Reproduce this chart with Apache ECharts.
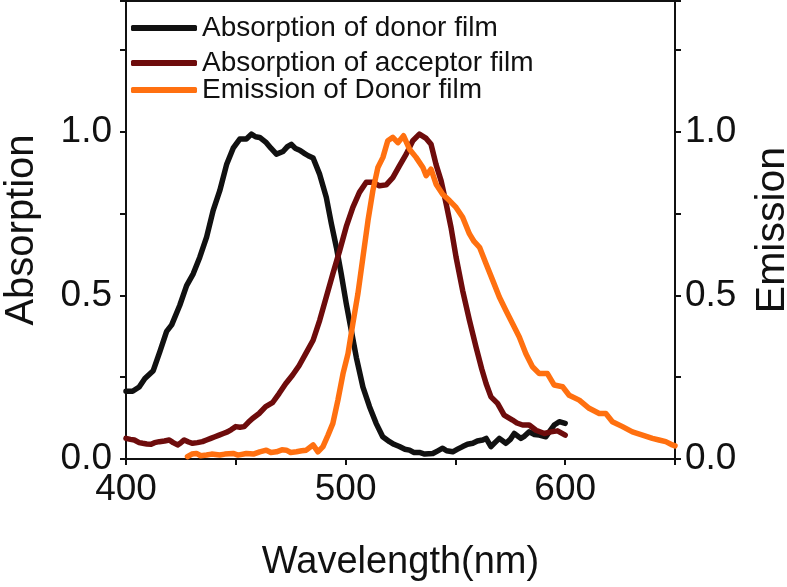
<!DOCTYPE html>
<html>
<head>
<meta charset="utf-8">
<script src="https://cdn.jsdelivr.net/npm/echarts@6/dist/echarts.min.js"></script>
<style>
html,body{margin:0;padding:0;background:#fff;}
#chart{width:787px;height:587px;}
</style>
</head>
<body>
<div id="chart"></div>
<script>
// ---- data ----
const seriesNames = ['Absorption of donor film', 'Absorption of acceptor film', 'Emission of Donor film'];
const xTickLabels = [400, 500, 600];
const yTickLabels = [0.0, 0.5, 1.0];

const donorWl = [400,403,406,408.6,412.4,415.5,418.5,420.8,424.5,427.6,430.6,433.6,436.7,439.7,442.7,445.8,448.8,451.8,454.8,457.1,459,460.9,463.9,466,468.5,471.5,473.5,475.3,477,479.1,481,483,485.2,488.2,491.2,493.5,495.8,498,500.3,502.6,504.9,507.9,510.9,513.9,516.9,520,522,524.5,527,529.1,531,533.6,536,539.7,542,544.2,546,548.8,551,553.3,555.5,557.9,560,562.4,564,566.2,568,570,573,575,576.8,579.8,581.5,583.6,586,588.2,591.2,593,595,597.3,600];
const donorAbs = [0.207,0.207,0.22,0.246,0.27,0.33,0.39,0.41,0.47,0.53,0.566,0.617,0.678,0.76,0.82,0.90,0.95,0.978,0.978,0.993,0.985,0.983,0.967,0.95,0.932,0.94,0.955,0.962,0.95,0.944,0.935,0.927,0.92,0.87,0.80,0.72,0.647,0.566,0.475,0.393,0.31,0.22,0.16,0.109,0.068,0.053,0.045,0.038,0.03,0.027,0.02,0.02,0.015,0.017,0.025,0.033,0.025,0.022,0.03,0.038,0.045,0.048,0.055,0.058,0.063,0.038,0.05,0.063,0.048,0.06,0.078,0.063,0.07,0.083,0.075,0.073,0.068,0.085,0.104,0.114,0.109];

const acceptorWl = [400,402,403.8,406,407.6,409.5,411.4,413,415.2,417.5,419.7,421.5,423.5,425,426.5,428.5,430.3,432.5,434.8,436.7,438.6,440.5,442.4,444.3,446.2,448,450,451.9,453.8,455.7,457.6,460.6,463.6,466.7,469.7,472.7,475.8,478.8,482.1,485.2,488.2,491.2,494.2,497.3,500.3,503.3,506.3,509.4,512.4,515.4,518.5,521.5,524.5,527.6,530.6,533.6,536.7,538.9,541.2,543.5,545.8,548,550.3,553.3,556.4,559.4,562,564,566.2,569.2,572.2,576,578,580.6,583.6,586.7,590.5,593.5,596.5,600];
const acceptorAbs = [0.063,0.06,0.058,0.05,0.048,0.046,0.045,0.05,0.053,0.055,0.058,0.05,0.043,0.05,0.058,0.052,0.048,0.05,0.053,0.058,0.063,0.068,0.073,0.078,0.083,0.09,0.099,0.097,0.099,0.112,0.124,0.139,0.16,0.172,0.20,0.23,0.256,0.285,0.325,0.363,0.424,0.495,0.566,0.637,0.71,0.769,0.815,0.846,0.846,0.835,0.838,0.86,0.896,0.932,0.973,0.993,0.98,0.962,0.90,0.85,0.78,0.708,0.617,0.515,0.424,0.342,0.275,0.23,0.19,0.17,0.134,0.119,0.11,0.104,0.104,0.088,0.078,0.083,0.086,0.073];

const emissionWl = [428,430,432.1,434,436.7,439,442.7,445,448.8,451,454.8,458,460.9,463.9,466,468.5,471,473,475,477.6,480,482.1,485.2,487.4,489.7,492,494.2,496.5,498.8,501.1,503.3,505.6,507.9,510.2,512.4,514.7,517,519.2,521.5,523.8,526.4,529.1,532.1,535.2,536.7,538.9,541.2,544.2,547.3,550.3,553.3,556.4,558.5,561,564,567,570,573,576,579.1,582.1,585.1,588.2,591.9,595,598.8,601.8,606.4,610.9,615.5,618.5,621.5,626.1,630.6,635.2,639.7,642.7,645.8,648.8,650];
const emissionVal = [0.007,0.015,0.017,0.01,0.012,0.015,0.012,0.015,0.017,0.012,0.017,0.015,0.022,0.027,0.02,0.022,0.028,0.027,0.02,0.022,0.025,0.027,0.043,0.022,0.038,0.073,0.109,0.18,0.26,0.322,0.414,0.505,0.617,0.729,0.82,0.891,0.922,0.973,0.983,0.967,0.988,0.947,0.922,0.891,0.866,0.886,0.84,0.809,0.79,0.769,0.739,0.688,0.665,0.647,0.596,0.546,0.495,0.454,0.414,0.373,0.322,0.282,0.261,0.261,0.226,0.221,0.195,0.18,0.155,0.139,0.139,0.114,0.099,0.083,0.073,0.063,0.058,0.053,0.043,0.04];

const colors = ['#111111', '#6e0c0c', '#ff7010'];

// ---- chart ----
const zip = (a, b) => a.map((v, i) => [v, b[i]]);
const FONT = '"Liberation Sans", Arial, sans-serif';

const yLabelFmt = v => yTickLabels.some(t => Math.abs(t - v) < 1e-6) ? v.toFixed(1) : '';
const xLabelFmt = v => xTickLabels.indexOf(Math.round(v)) >= 0 && Math.abs(v - Math.round(v)) < 1e-6 ? String(Math.round(v)) : '';

function yAxisCfg(pos, name, nameGap, nameSize, margin) {
  return {
    type: 'value', position: pos, min: 0, max: 1.4, interval: 0.25,
    name: name, nameLocation: 'middle', nameGap: nameGap, nameRotate: 90,
    nameMoveOverlap: false,
    nameTextStyle: { fontSize: nameSize, color: '#111', fontFamily: FONT },
    axisLine: { show: true, lineStyle: { color: '#111', width: 2 } },
    axisTick: { show: true, inside: false, length: 6, lineStyle: { color: '#111', width: 2 } },
    axisLabel: { formatter: yLabelFmt, fontSize: 37, color: '#111', fontFamily: FONT, margin: margin, showMaxLabel: true },
    splitLine: { show: false }
  };
}

function legendCfg(name, top) {
  return {
    data: [name], left: 131, top: top, padding: 0, orient: 'vertical',
    icon: 'roundRect', itemWidth: 66, itemHeight: 6,
    textStyle: { fontSize: 28, color: '#111', fontFamily: FONT },
    selectedMode: false
  };
}

const chart = echarts.init(document.getElementById('chart'), null, { renderer: 'canvas' });
chart.setOption({
  animation: false,
  backgroundColor: '#fff',
  color: colors,
  grid: { left: 126, right: 112, top: 1, bottom: 128, containLabel: false, outerBoundsMode: 'none', show: true, borderColor: '#111', borderWidth: 2, backgroundColor: 'transparent' },
  legend: [legendCfg(seriesNames[0], 14), legendCfg(seriesNames[1], 49), legendCfg(seriesNames[2], 76)],
  xAxis: {
    type: 'value', min: 400, max: 650, interval: 50,
    name: 'Wavelength(nm)', nameLocation: 'middle', nameGap: 85, nameMoveOverlap: false,
    nameTextStyle: { fontSize: 38, color: '#111', fontFamily: FONT },
    axisLine: { show: true, lineStyle: { color: '#111', width: 2 } },
    axisTick: { show: true, inside: false, length: 6, lineStyle: { color: '#111', width: 2 } },
    axisLabel: { formatter: xLabelFmt, fontSize: 37, color: '#111', fontFamily: FONT, margin: 12 },
    splitLine: { show: false }
  },
  yAxis: [
    yAxisCfg('left', 'Absorption', 84, 40, 14),
    yAxisCfg('right', 'Emission', 77, 41, 10)
  ],
  series: [
    { name: seriesNames[0], type: 'line', yAxisIndex: 0, data: zip(donorWl, donorAbs), showSymbol: false, lineStyle: { width: 5.5, color: colors[0], cap: 'round', join: 'round' }, itemStyle: { color: colors[0] } },
    { name: seriesNames[1], type: 'line', yAxisIndex: 0, data: zip(acceptorWl, acceptorAbs), showSymbol: false, lineStyle: { width: 5.5, color: colors[1], cap: 'round', join: 'round' }, itemStyle: { color: colors[1] } },
    { name: seriesNames[2], type: 'line', yAxisIndex: 1, data: zip(emissionWl, emissionVal), showSymbol: false, lineStyle: { width: 5.5, color: colors[2], cap: 'round', join: 'round' }, itemStyle: { color: colors[2] } }
  ]
});
</script>
</body>
</html>
